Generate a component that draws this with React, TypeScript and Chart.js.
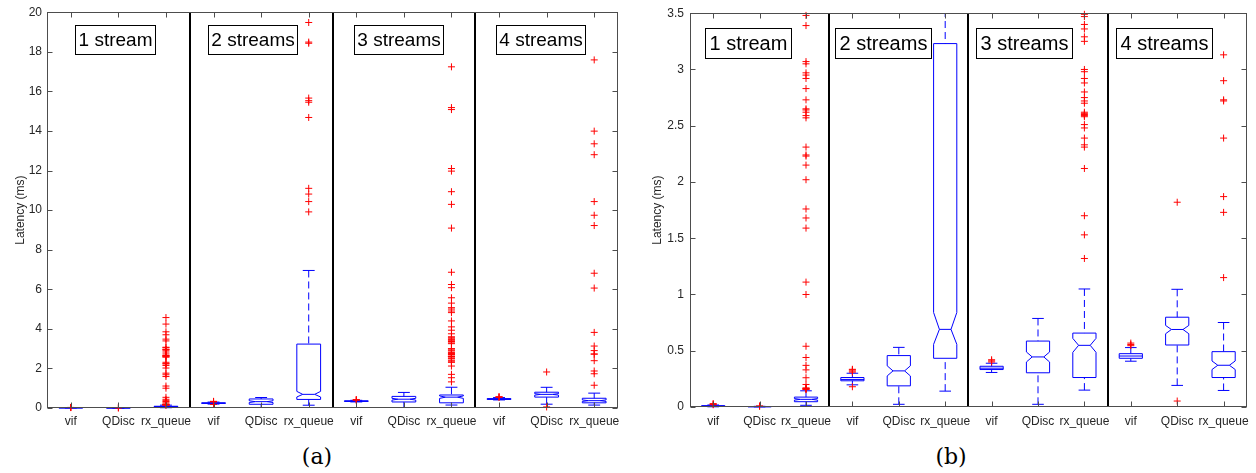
import React, { useEffect, useRef } from 'react';
import { Chart, registerables } from 'chart.js';

Chart.register(...registerables);

// ---------------- data ----------------
const groups = ['1 stream', '2 streams', '3 streams', '4 streams'];
const methods = ['vif', 'QDisc', 'rx_queue'];
const categories = groups.flatMap(() => methods);

const q1 = [0.005, 0.002, 0.047, 0.233, 0.188, 0.433, 0.333, 0.304, 0.262, 0.433, 0.551, 0.262];
const median = [0.008, 0.003, 0.068, 0.245, 0.321, 0.69, 0.345, 0.445, 0.548, 0.453, 0.689, 0.371];
const q3 = [0.012, 0.004, 0.088, 0.262, 0.457, 3.23, 0.362, 0.586, 0.657, 0.474, 0.798, 0.492];
const whiskerLow = [0.002, 0.001, 0.015, 0.197, 0.024, 0.141, 0.307, 0.024, 0.15, 0.407, 0.192, 0.147];
const whiskerHigh = [0.018, 0.006, 0.144, 0.3, 0.53, 6.95, 0.389, 0.787, 1.049, 0.528, 1.046, 0.751];
const notchLow: (number | null)[] = [null, null, 0.061, null, 0.276, 0.557, null, 0.4, 0.486, null, 0.651, 0.333];
const notchHigh: (number | null)[] = [null, null, 0.075, null, 0.366, 0.84, null, 0.489, 0.61, null, 0.725, 0.409];

const outliers: number[][] = [
  [0.02, 0.025, 0.03],
  [0.007, 0.009],
  [0.155, 0.16, 0.162, 0.165, 0.17, 0.2, 0.26, 0.33, 0.37, 0.44, 0.54, 1.0, 1.11, 1.59, 1.68, 1.76, 2.02, 2.15,
    2.23, 2.24, 2.31, 2.57, 2.59, 2.62, 2.64, 2.65, 2.73, 2.83, 2.92, 2.95, 2.97, 3.05, 3.07, 3.39, 3.48, 3.7,
    3.85, 4.24, 4.57],
  [0.18, 0.31, 0.32, 0.33, 0.335],
  [],
  [9.91, 10.43, 10.81, 11.1, 14.68, 15.45, 15.53, 15.66, 18.43, 18.49, 19.48],
  [0.4, 0.41, 0.42],
  [],
  [1.32, 1.53, 1.7, 2.12, 2.31, 2.33, 2.39, 2.48, 2.51, 2.58, 2.59, 2.6, 2.61, 2.62, 2.7, 2.72, 2.75, 2.8, 2.88,
    2.92, 2.98, 3.0, 3.25, 3.29, 3.36, 3.4, 3.47, 3.49, 3.55, 3.6, 3.75, 3.93, 4.1, 4.4, 4.82, 4.9, 5.0, 5.07, 5.3,
    5.57, 6.08, 6.24, 6.86, 9.09, 10.29, 10.93, 11.97, 12.1, 15.08, 15.18, 17.24],
  [0.545, 0.555, 0.568],
  [0.053, 1.82],
  [1.15, 1.73, 1.87, 2.39, 2.72, 2.73, 2.9, 3.13, 3.82, 6.06, 6.81, 9.22, 9.74, 10.43, 12.8, 13.35, 13.99, 17.59],
];

const yTicksA = [0, 2, 4, 6, 8, 10, 12, 14, 16, 18, 20];
const yTicksB = [0, 0.5, 1, 1.5, 2, 2.5, 3, 3.5];
const yTitle = 'Latency (ms)';

// ---------------- style / layout ----------------
const FONT = '"Liberation Sans", Arial, Helvetica, sans-serif';
const AXIS = '#262626';
const FRAME = '#4d4d4d';
const BOX = '#0000ff';
const OUT = '#ff0000';

interface PanelCfg {
  yTicks: number[];
  yMax: number;
  yAxisW: number;
  xAxisH: number;
  padTop: number;
  padRight: number;
  yTickPad: number;
  xTickPad: number;
  labelX: number[];
  labelCy: number;
  labelFs: number;
  labelPad: number;
  labelH: number;
  yTitleX: number;
}

const panelA: PanelCfg = {
  yTicks: yTicksA, yMax: 20, yAxisW: 47, xAxisH: 32, padTop: 9, padRight: 10, yTickPad: 5, xTickPad: 6,
  labelX: [1.93, 4.83, 7.89, 10.88], labelCy: 39.3, labelFs: 19, labelPad: 3, labelH: 28.5, yTitleX: 20.7,
};
const panelB: PanelCfg = {
  yTicks: yTicksB, yMax: 3.5, yAxisW: 62, xAxisH: 33, padTop: 11, padRight: 9, yTickPad: 6, xTickPad: 7,
  labelX: [1.74, 4.65, 7.7, 10.72], labelCy: 42.3, labelFs: 20, labelPad: 4, labelH: 29.5, yTitleX: 29.5,
};

const CW = 628;
const CH = 440;

function BoxPanel({ cfg, left }: { cfg: PanelCfg; left: number }) {
  const ref = useRef<HTMLCanvasElement>(null);
  useEffect(() => {
    const canvas = ref.current;
    if (!canvas) return;
    const points = outliers.flatMap((arr, i) =>
      arr.filter((v) => v <= cfg.yMax).map((v) => ({ x: i + 1, y: v }))
    );

    const plugin = {
      id: 'boxplotDraw',
      beforeDatasetsDraw(chart: any) {
        const { ctx, chartArea: a } = chart;
        const xs = chart.scales.x;
        const ys = chart.scales.y;
        const seg = (x1: number, y1: number, x2: number, y2: number) => {
          ctx.beginPath();
          ctx.moveTo(x1, y1);
          ctx.lineTo(x2, y2);
          ctx.stroke();
        };
        ctx.save();
        ctx.beginPath();
        ctx.rect(a.left, a.top, a.right - a.left, a.bottom - a.top + 2);
        ctx.clip();
        ctx.strokeStyle = BOX;
        ctx.lineWidth = 1;
        categories.forEach((_, i) => {
          const cx = xs.getPixelForValue(i + 1);
          const hw = xs.getPixelForValue(i + 1.25) - cx;
          const py = (v: number) => ys.getPixelForValue(v);
          // whiskers
          ctx.setLineDash([7, 4]);
          seg(cx, py(whiskerHigh[i]), cx, py(q3[i]));
          seg(cx, py(whiskerLow[i]), cx, py(q1[i]));
          ctx.setLineDash([]);
          seg(cx - hw / 2, py(whiskerHigh[i]), cx + hw / 2, py(whiskerHigh[i]));
          seg(cx - hw / 2, py(whiskerLow[i]), cx + hw / 2, py(whiskerLow[i]));
          // box
          const l = cx - hw;
          const r = cx + hw;
          const yb = py(q1[i]);
          const yt = py(q3[i]);
          const ym = py(median[i]);
          const nlo = notchLow[i];
          const nhi = notchHigh[i];
          ctx.beginPath();
          if (nlo != null && nhi != null) {
            const inset = hw / 2;
            const yl = py(nlo);
            const yh = py(nhi);
            ctx.moveTo(l, yb);
            ctx.lineTo(l, yl);
            ctx.lineTo(l + inset, ym);
            ctx.lineTo(l, yh);
            ctx.lineTo(l, yt);
            ctx.lineTo(r, yt);
            ctx.lineTo(r, yh);
            ctx.lineTo(r - inset, ym);
            ctx.lineTo(r, yl);
            ctx.lineTo(r, yb);
            ctx.closePath();
            ctx.stroke();
            seg(l + inset, ym, r - inset, ym);
          } else {
            ctx.rect(l, yt, r - l, yb - yt);
            ctx.stroke();
            seg(l, ym, r, ym);
          }
        });
        ctx.restore();
      },
      afterDraw(chart: any) {
        const { ctx, chartArea: a } = chart;
        const xs = chart.scales.x;
        const ys = chart.scales.y;
        const seg = (x1: number, y1: number, x2: number, y2: number) => {
          ctx.beginPath();
          ctx.moveTo(x1, y1);
          ctx.lineTo(x2, y2);
          ctx.stroke();
        };
        ctx.save();
        // group separators
        ctx.strokeStyle = '#000';
        ctx.lineWidth = 2;
        for (let g = 1; g < groups.length; g++) {
          const x = Math.round(xs.getPixelForValue(g * methods.length + 0.5));
          seg(x, a.top, x, a.bottom);
        }
        // frame
        const L = Math.round(a.left) + 0.5;
        const R = Math.round(a.right) - 0.5;
        const T = Math.round(a.top) + 0.5;
        const B = Math.round(a.bottom) - 0.5;
        ctx.strokeStyle = FRAME;
        ctx.lineWidth = 1;
        ctx.strokeRect(L, T, R - L, B - T);
        // inward ticks
        cfg.yTicks.forEach((v) => {
          const y = Math.round(ys.getPixelForValue(v)) + 0.5;
          seg(L, y, L + 5, y);
          seg(R, y, R - 5, y);
        });
        categories.forEach((_, i) => {
          const x = Math.round(xs.getPixelForValue(i + 1)) + 0.5;
          seg(x, B, x, B - 5);
          seg(x, T, x, T + 5);
        });
        // stream labels
        ctx.font = `${cfg.labelFs}px ${FONT}`;
        ctx.textAlign = 'center';
        ctx.textBaseline = 'middle';
        groups.forEach((g, k) => {
          const cx = xs.getPixelForValue(cfg.labelX[k]);
          const tw = ctx.measureText(g).width;
          const w = tw + 2 * cfg.labelPad;
          const x0 = Math.round(cx - w / 2) + 0.5;
          const y0 = Math.round(cfg.labelCy - cfg.labelH / 2) + 0.5;
          ctx.fillStyle = '#fff';
          ctx.fillRect(x0, y0, Math.round(w), Math.round(cfg.labelH));
          ctx.strokeStyle = '#000';
          ctx.lineWidth = 1;
          ctx.strokeRect(x0, y0, Math.round(w), Math.round(cfg.labelH));
          ctx.fillStyle = '#000';
          ctx.fillText(g, x0 + Math.round(w) / 2, y0 + Math.round(cfg.labelH) / 2 + 1);
        });
        // y title
        ctx.translate(cfg.yTitleX, (a.top + a.bottom) / 2);
        ctx.rotate(-Math.PI / 2);
        ctx.font = `12px ${FONT}`;
        ctx.fillStyle = AXIS;
        ctx.fillText(yTitle, 0, 0);
        ctx.restore();
      },
    };

    const chart = new Chart(canvas, {
      type: 'scatter',
      data: {
        datasets: [
          {
            data: points,
            pointStyle: 'cross',
            pointRadius: 3.5,
            pointHoverRadius: 3.5,
            borderColor: OUT,
            backgroundColor: OUT,
            borderWidth: 1,
            clip: 5,
          } as any,
        ],
      },
      options: {
        animation: false,
        responsive: false,
        devicePixelRatio: 1,
        events: [],
        layout: { padding: { left: 0, right: cfg.padRight, top: cfg.padTop, bottom: 0 } },
        plugins: { legend: { display: false }, tooltip: { enabled: false } },
        scales: {
          x: {
            type: 'linear',
            min: 0.5,
            max: categories.length + 0.5,
            afterBuildTicks: (s: any) => {
              s.ticks = categories.map((_, i) => ({ value: i + 1 }));
            },
            afterFit: (s: any) => {
              s.height = cfg.xAxisH;
            },
            grid: { display: false, drawTicks: false },
            border: { display: false },
            ticks: {
              autoSkip: false,
              maxRotation: 0,
              minRotation: 0,
              padding: cfg.xTickPad,
              color: AXIS,
              font: { family: FONT, size: 12 },
              callback: (v: any) => categories[Math.round(Number(v)) - 1] ?? '',
            },
          },
          y: {
            type: 'linear',
            min: 0,
            max: cfg.yMax,
            afterBuildTicks: (s: any) => {
              s.ticks = cfg.yTicks.map((v) => ({ value: v }));
            },
            afterFit: (s: any) => {
              s.width = cfg.yAxisW;
            },
            grid: { display: false, drawTicks: false },
            border: { display: false },
            ticks: {
              padding: cfg.yTickPad,
              color: AXIS,
              font: { family: FONT, size: 12 },
              callback: (v: any) => String(Number(v)),
            },
          },
        },
      } as any,
      plugins: [plugin],
    });
    return () => chart.destroy();
  }, [cfg]);

  return (
    <canvas
      ref={ref}
      width={CW}
      height={CH}
      style={{ position: 'absolute', left, top: 0, width: CW, height: CH }}
    />
  );
}

const captionStyle: React.CSSProperties = {
  position: 'absolute',
  top: 443,
  width: 100,
  textAlign: 'center',
  fontFamily: '"DejaVu Serif", "Liberation Serif", serif',
  fontSize: 22,
  lineHeight: '28px',
  color: '#000',
};

export default function App() {
  return (
    <div
      style={{
        position: 'absolute',
        left: 0,
        top: 0,
        width: 1256,
        height: 473,
        background: '#fff',
        overflow: 'hidden',
      }}
    >
      <BoxPanel cfg={panelA} left={0} />
      <BoxPanel cfg={panelB} left={628} />
      <div style={{ ...captionStyle, left: 267 }}>(a)</div>
      <div style={{ ...captionStyle, left: 901 }}>(b)</div>
    </div>
  );
}
